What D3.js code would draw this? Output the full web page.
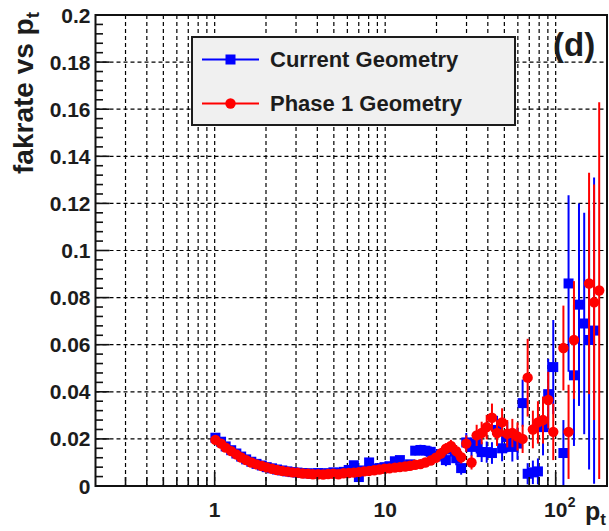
<!DOCTYPE html>
<html>
<head>
<meta charset="utf-8">
<script src="https://cdn.jsdelivr.net/npm/d3@7"></script>
<style>
  html, body { margin: 0; padding: 0; background: #fff; }
  svg { display: block; font-family: "Liberation Sans", Arial, Helvetica, sans-serif; }
</style>
</head>
<body>
<svg id="chart" width="609" height="531"></svg>
<script>
// Bin centres in p_t (log-spaced bins)
const ptBins = [
  1.01, 1.09, 1.16, 1.25, 1.34, 1.43, 1.53, 1.64, 1.76, 1.89,
  2.02, 2.17, 2.32, 2.49, 2.67, 2.86, 3.06, 3.28, 3.52, 3.77,
  4.04, 4.33, 4.63, 4.97, 5.32, 5.70, 6.11, 6.55, 7.01, 7.52,
  8.05, 8.63, 9.25, 9.91, 10.6, 11.4, 12.2, 13.1, 14.0, 15.0,
  16.1, 17.2, 18.5, 19.8, 21.2, 22.7, 24.3, 26.1, 27.9, 29.9,
  32.1, 34.4, 36.8, 39.4, 42.3, 45.3, 48.5, 52.0, 55.7, 59.7,
  64.0, 68.5, 73.5, 78.7, 84.3, 90.4, 96.8, 104, 111, 119,
  128, 137, 147, 157, 168, 180, 193
];

// Current geometry: fake rate and its error per bin (null = empty bin)
const currentRate = [
  0.0205, 0.0188, 0.0168, 0.0152, 0.0138, 0.0125, 0.0113, 0.0103, 0.0094, 0.0087,
  0.0080, 0.0075, 0.0070, 0.0066, 0.0062, 0.0059, 0.0057, 0.0055, 0.0054, 0.0052,
  0.0055, 0.0053, 0.0054, 0.0058, 0.0055, 0.0060, 0.0068, 0.0088, 0.0038, 0.0066,
  0.0100, 0.0072, 0.0076, 0.0080, 0.0084, 0.0105, 0.0110, 0.0086, 0.0092, 0.0150,
  0.0153, 0.0150, 0.0145, 0.0125, 0.0135, 0.0110, 0.0155, 0.0118, 0.0076, 0.0185,
  0.0166, 0.0180, 0.0144, 0.0144, 0.0140, 0.0238, 0.0160, 0.0208, 0.0166, 0.0180,
  0.0352, 0.0052, 0.0058, 0.0062, 0.0250, 0.0390, 0.0505, null, 0.0140, 0.0860,
  0.0470, 0.0770, 0.0690, 0.0620, 0.0660, null, null
];
const currentErr = [
  0.0004, 0.0004, 0.0004, 0.0004, 0.0004, 0.0004, 0.0004, 0.0004, 0.0004, 0.0004,
  0.0004, 0.0004, 0.0004, 0.0004, 0.0004, 0.0004, 0.0004, 0.0004, 0.0005, 0.0005,
  0.0005, 0.0005, 0.0005, 0.0005, 0.0006, 0.0006, 0.0007, 0.0009, 0.0010, 0.0009,
  0.0011, 0.0010, 0.0011, 0.0011, 0.0012, 0.0014, 0.0015, 0.0014, 0.0016, 0.0020,
  0.0022, 0.0022, 0.0023, 0.0024, 0.0026, 0.0026, 0.0030, 0.0030, 0.0028, 0.0040,
  0.0040, 0.0042, 0.0042, 0.0045, 0.0046, 0.0060, 0.0055, 0.0065, 0.0062, 0.0068,
  0.0100, 0.0045, 0.0050, 0.0055, 0.0120, 0.0150, 0.0200, null, 0.0140, 0.0375,
  0.0300, 0.0430, 0.0470, 0.0550, 0.0650, null, null
];

// Phase 1 geometry: fake rate and its error per bin (null = empty bin)
const phase1Rate = [
  0.0196, 0.0180, 0.0163, 0.0148, 0.0134, 0.0121, 0.0110, 0.0100, 0.0092, 0.0085,
  0.0079, 0.0073, 0.0068, 0.0064, 0.0061, 0.0058, 0.0056, 0.0053, 0.0052, 0.0050,
  0.0050, 0.0049, 0.0051, 0.0052, 0.0050, 0.0054, 0.0055, 0.0057, 0.0059, 0.0062,
  0.0064, 0.0067, 0.0070, 0.0073, 0.0075, 0.0078, 0.0080, 0.0083, 0.0086, 0.0090,
  0.0093, 0.0100, 0.0108, 0.0120, 0.0138, 0.0158, 0.0170, 0.0148, 0.0122, 0.0180,
  0.0100, 0.0215, 0.0225, 0.0250, 0.0290, 0.0225, 0.0270, 0.0222, 0.0225, 0.0210,
  0.0200, 0.0460, 0.0240, 0.0270, 0.0280, 0.0365, 0.0230, null, 0.0586, 0.0230,
  0.0620, null, null, 0.0860, 0.0780, 0.0830, null
];
const phase1Err = [
  0.0004, 0.0004, 0.0004, 0.0004, 0.0004, 0.0004, 0.0004, 0.0004, 0.0004, 0.0004,
  0.0004, 0.0004, 0.0004, 0.0004, 0.0004, 0.0004, 0.0004, 0.0004, 0.0004, 0.0004,
  0.0005, 0.0005, 0.0005, 0.0005, 0.0005, 0.0006, 0.0006, 0.0007, 0.0007, 0.0008,
  0.0008, 0.0009, 0.0009, 0.0010, 0.0010, 0.0011, 0.0012, 0.0013, 0.0014, 0.0015,
  0.0016, 0.0017, 0.0018, 0.0020, 0.0022, 0.0024, 0.0026, 0.0026, 0.0026, 0.0035,
  0.0030, 0.0045, 0.0048, 0.0052, 0.0060, 0.0055, 0.0060, 0.0058, 0.0060, 0.0060,
  0.0060, 0.0165, 0.0080, 0.0090, 0.0100, 0.0120, 0.0120, null, 0.0180, 0.0200,
  0.0250, null, null, 0.0470, 0.0500, 0.0800, null
];

// Axis ticks and labels
const yTickValues = [0, 0.02, 0.04, 0.06, 0.08, 0.1, 0.12, 0.14, 0.16, 0.18, 0.2];
const yTickLabels = ["0", "0.02", "0.04", "0.06", "0.08", "0.1", "0.12", "0.14", "0.16", "0.18", "0.2"];
const xDecades = [1, 10, 100];
const xDecadeBase = ["1", "10", "10"];
const xDecadeExp = ["", "", "2"];
const legendLabels = ["Current Geometry", "Phase 1 Geometry"];
const seriesColors = ["#0000ff", "#ff0000"];

const svg = d3.select("#chart");
const frame = { left: 95.5, right: 607, top: 15, bottom: 486 };

const x = d3.scaleLog().domain([0.2, 200]).range([frame.left, frame.right]);
const y = d3.scaleLinear().domain([0, 0.2]).range([frame.bottom, frame.top]);

// Clip for data inside the frame
svg.append("defs").append("clipPath").attr("id", "plotClip")
  .append("rect")
  .attr("x", frame.left).attr("y", frame.top)
  .attr("width", frame.right - frame.left).attr("height", frame.bottom - frame.top);

// Log-axis tick positions: every integer multiple inside each decade
const logTicks = [];
[0.1, 1, 10, 100].forEach(dec => {
  for (let m = 1; m <= 9; m++) {
    const v = +(m * dec).toPrecision(3);
    if (v > 0.2 && v < 200) logTicks.push(v);
  }
});
const yMinor = d3.range(0, 0.2001, 0.004).map(v => +v.toFixed(4));

// Grid
const grid = svg.append("g").attr("stroke", "#000").attr("stroke-width", 1.2)
  .attr("stroke-dasharray", "4,3").attr("fill", "none");
grid.selectAll("line.vx").data(logTicks).join("line")
  .attr("x1", d => x(d)).attr("x2", d => x(d))
  .attr("y1", frame.top).attr("y2", frame.bottom);
grid.selectAll("line.hy").data(yTickValues.slice(1, -1)).join("line")
  .attr("class", "hy")
  .attr("x1", frame.left).attr("x2", frame.right)
  .attr("y1", d => y(d)).attr("y2", d => y(d));

// Bin edges (geometric midpoints between neighbouring centres)
function binEdges(i) {
  const c = ptBins[i];
  const prev = i > 0 ? ptBins[i - 1] : c / (ptBins[1] / ptBins[0]);
  const next = i < ptBins.length - 1 ? ptBins[i + 1] : c * (c / ptBins[i - 1]);
  return [Math.sqrt(prev * c), Math.sqrt(c * next)];
}

function drawSeries(rates, errs, color, marker) {
  const pts = ptBins.map((p, i) => ({ p, v: rates[i], e: errs[i], i }))
    .filter(d => d.v !== null);
  const g = svg.append("g").attr("clip-path", "url(#plotClip)");
  // vertical error bars
  g.selectAll("line.ev").data(pts).join("line")
    .attr("x1", d => x(d.p)).attr("x2", d => x(d.p))
    .attr("y1", d => y(Math.max(0, d.v - d.e))).attr("y2", d => y(d.v + d.e))
    .attr("stroke", color).attr("stroke-width", 2);
  // horizontal (bin width) bars
  g.selectAll("line.eh").data(pts).join("line")
    .attr("x1", d => x(binEdges(d.i)[0])).attr("x2", d => x(binEdges(d.i)[1]))
    .attr("y1", d => y(d.v)).attr("y2", d => y(d.v))
    .attr("stroke", color).attr("stroke-width", 2);
  if (marker === "square") {
    g.selectAll("rect.mk").data(pts).join("rect")
      .attr("x", d => x(d.p) - 5).attr("y", d => y(d.v) - 5)
      .attr("width", 10).attr("height", 10).attr("fill", color);
  } else {
    g.selectAll("circle.mk").data(pts).join("circle")
      .attr("cx", d => x(d.p)).attr("cy", d => y(d.v))
      .attr("r", 5.2).attr("fill", color);
  }
}

drawSeries(currentRate, currentErr, seriesColors[0], "square");
drawSeries(phase1Rate, phase1Err, seriesColors[1], "circle");

// Frame
svg.append("rect")
  .attr("x", frame.left).attr("y", frame.top)
  .attr("width", frame.right - frame.left).attr("height", frame.bottom - frame.top)
  .attr("fill", "none").attr("stroke", "#111").attr("stroke-width", 2);

// Y axis ticks
const axisInk = "#111";
svg.append("g").selectAll("line").data(yMinor).join("line")
  .attr("x1", frame.left).attr("y1", d => y(d)).attr("y2", d => y(d))
  .attr("x2", d => frame.left + (yTickValues.some(t => Math.abs(t - d) < 1e-6) ? 14 : 7.5))
  .attr("stroke", axisInk).attr("stroke-width", 1.6);

// X axis ticks
svg.append("g").selectAll("line").data(logTicks).join("line")
  .attr("x1", d => x(d)).attr("x2", d => x(d)).attr("y1", frame.bottom)
  .attr("y2", d => frame.bottom - (xDecades.includes(d) ? 14 : 9))
  .attr("stroke", axisInk).attr("stroke-width", 1.6);

const textInk = "#1c1c1c";

// Y tick labels
svg.append("g").selectAll("text").data(yTickValues).join("text")
  .attr("x", frame.left - 5).attr("y", d => y(d)).attr("dy", "0.36em")
  .attr("text-anchor", "end").attr("font-size", 21).attr("font-weight", "bold")
  .attr("fill", textInk)
  .text((d, i) => yTickLabels[i]);

// X tick labels (decades)
const xl = svg.append("g");
xDecades.forEach((d, i) => {
  const t = xl.append("text")
    .attr("x", x(d)).attr("y", 517).attr("text-anchor", "middle")
    .attr("font-size", 21).attr("font-weight", "bold").attr("fill", textInk)
    .text(xDecadeBase[i]);
  if (xDecadeExp[i]) {
    const w = t.node().getComputedTextLength();
    xl.append("text")
      .attr("x", x(d) + w / 2 + 0.5).attr("y", 507)
      .attr("font-size", 14).attr("font-weight", "bold").attr("fill", textInk)
      .text(xDecadeExp[i]);
  }
});

// Axis titles
const yTitle = svg.append("text")
  .attr("transform", "translate(33,12) rotate(-90)")
  .attr("text-anchor", "end").attr("font-size", 28).attr("font-weight", "bold")
  .attr("fill", textInk);
yTitle.append("tspan").text("fakrate vs p");
yTitle.append("tspan").attr("font-size", 19).attr("dy", 6).text("t");

const xTitle = svg.append("text")
  .attr("x", 606).attr("y", 520).attr("text-anchor", "end")
  .attr("font-size", 25).attr("font-weight", "bold").attr("fill", textInk);
xTitle.append("tspan").text("p");
xTitle.append("tspan").attr("font-size", 17).attr("dy", 5).text("t");

// Panel tag
svg.append("text").attr("x", 553).attr("y", 56)
  .attr("font-size", 33).attr("font-weight", "bold").attr("fill", textInk)
  .text("(d)");

// Legend
const lg = svg.append("g");
lg.append("rect").attr("x", 192).attr("y", 37).attr("width", 323).attr("height", 88)
  .attr("fill", "#f0f0f0").attr("stroke", "#1c1c1c").attr("stroke-width", 2);
const rowY = [59.5, 103.5];
legendLabels.forEach((lab, i) => {
  lg.append("line").attr("x1", 202).attr("x2", 259).attr("y1", rowY[i]).attr("y2", rowY[i])
    .attr("stroke", seriesColors[i]).attr("stroke-width", 2);
  if (i === 0) {
    lg.append("rect").attr("x", 230.5 - 5).attr("y", rowY[i] - 5)
      .attr("width", 10).attr("height", 10).attr("fill", seriesColors[i]);
  } else {
    lg.append("circle").attr("cx", 230.5).attr("cy", rowY[i]).attr("r", 5.2)
      .attr("fill", seriesColors[i]);
  }
  lg.append("text").attr("x", 270).attr("y", rowY[i]).attr("dy", "0.36em")
    .attr("font-size", 22).attr("font-weight", "bold").attr("fill", textInk)
    .text(lab);
});
</script>
</body>
</html>
